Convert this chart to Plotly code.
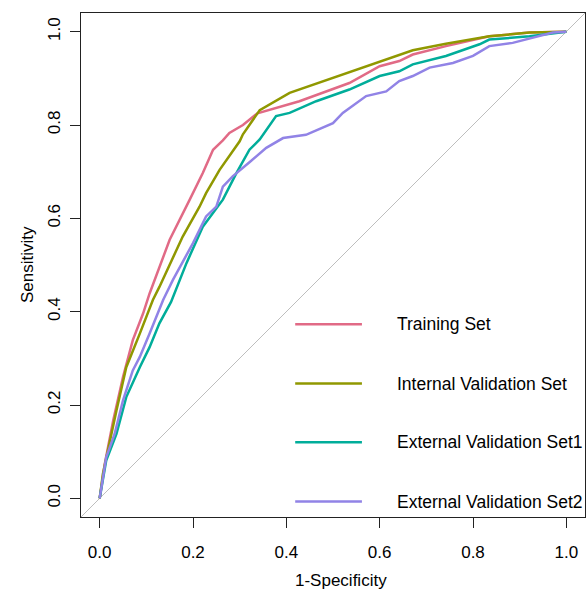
import plotly.graph_objects as go

# ---- data ----
series_names = ["Training Set", "Internal Validation Set",
                "External Validation Set1", "External Validation Set2"]
series_colors = ["#E16A86", "#909800", "#00AD9A", "#9183E6"]

train_x = [0, 0.011, 0.029, 0.050, 0.071, 0.093, 0.107, 0.150, 0.193, 0.221, 0.243,
           0.264, 0.278, 0.307, 0.338, 0.428, 0.535, 0.600, 0.642, 0.671, 0.742, 0.835, 0.921, 1.0]
train_y = [0, 0.074, 0.167, 0.260, 0.339, 0.396, 0.439, 0.554, 0.640, 0.697, 0.747,
           0.767, 0.783, 0.800, 0.825, 0.851, 0.890, 0.926, 0.937, 0.951, 0.969, 0.990, 0.998, 1.0]

int_x = [0, 0.007, 0.036, 0.057, 0.086, 0.114, 0.128, 0.178, 0.214, 0.228, 0.257,
         0.300, 0.307, 0.343, 0.407, 0.500, 0.600, 0.671, 0.742, 0.835, 0.921, 1.0]
int_y = [0, 0.053, 0.188, 0.281, 0.353, 0.425, 0.453, 0.561, 0.625, 0.654, 0.704,
         0.765, 0.780, 0.832, 0.869, 0.901, 0.936, 0.960, 0.974, 0.990, 0.998, 1.0]

ext1_x = [0, 0.014, 0.036, 0.057, 0.086, 0.107, 0.128, 0.153, 0.186, 0.221, 0.264,
          0.293, 0.321, 0.343, 0.378, 0.407, 0.464, 0.535, 0.600, 0.642, 0.671, 0.742,
          0.814, 0.835, 0.921, 1.0]
ext1_y = [0, 0.081, 0.138, 0.217, 0.281, 0.324, 0.375, 0.421, 0.504, 0.582, 0.640,
          0.697, 0.747, 0.769, 0.819, 0.826, 0.851, 0.876, 0.905, 0.915, 0.930, 0.948,
          0.973, 0.983, 0.990, 1.0]

ext2_x = [0, 0.014, 0.032, 0.050, 0.071, 0.086, 0.107, 0.136, 0.157, 0.200, 0.228,
          0.250, 0.264, 0.285, 0.321, 0.357, 0.393, 0.442, 0.500, 0.521, 0.571, 0.614,
          0.642, 0.671, 0.707, 0.757, 0.800, 0.835, 0.885, 0.928, 0.971, 1.0]
ext2_y = [0, 0.088, 0.138, 0.210, 0.274, 0.303, 0.353, 0.425, 0.468, 0.547, 0.604,
          0.625, 0.668, 0.690, 0.720, 0.751, 0.772, 0.779, 0.804, 0.826, 0.862, 0.872,
          0.894, 0.905, 0.923, 0.933, 0.948, 0.969, 0.976, 0.987, 0.998, 1.0]

tick_vals = [0.0, 0.2, 0.4, 0.6, 0.8, 1.0]
tick_text = ["0.0", "0.2", "0.4", "0.6", "0.8", "1.0"]

xs = [train_x, int_x, ext1_x, ext2_x]
ys = [train_y, int_y, ext1_y, ext2_y]

# ---- layout constants ----
axis_range = [-0.04, 1.04]
FONT = "Liberation Sans, Arial, Helvetica, sans-serif"

fig = go.Figure()
for name, col, x, y in zip(series_names, series_colors, xs, ys):
    fig.add_trace(go.Scatter(x=x, y=y, mode="lines", name=name,
                             line=dict(color=col, width=2.5), showlegend=False))

# diagonal reference line (abline 0,1)
fig.add_shape(type="line", xref="x", yref="y", layer="below",
              x0=axis_range[0], y0=axis_range[0], x1=axis_range[1], y1=axis_range[1],
              line=dict(color="#BEBEBE", width=1))

# manual legend in data coordinates (like R's legend())
leg_y = [0.373, 0.246, 0.120, -0.007]
leg_x0, leg_x1, leg_tx = 0.419, 0.562, 0.632
for name, col, ly in zip(series_names, series_colors, leg_y):
    fig.add_shape(type="line", xref="x", yref="y", x0=leg_x0, x1=leg_x1, y0=ly, y1=ly,
                  line=dict(color=col, width=2.5))
    fig.add_annotation(x=leg_tx, y=ly, xref="x", yref="y", text=name, showarrow=False,
                       xanchor="left", yanchor="middle",
                       font=dict(family=FONT, size=17.5, color="#000"))

# axis titles
fig.add_annotation(x=0.516, y=0, xref="paper", yref="paper", text="1-Specificity",
                   showarrow=False, xanchor="center", yanchor="middle", yshift=-63,
                   font=dict(family=FONT, size=17, color="#000"))
fig.add_annotation(x=0, y=0.5, xref="paper", yref="paper", text="Sensitivity",
                   showarrow=False, xanchor="center", yanchor="middle", xshift=-54,
                   textangle=-90, font=dict(family=FONT, size=17, color="#000"))

axis_common = dict(range=axis_range, tickvals=tick_vals, ticktext=tick_text,
                   ticks="outside", ticklen=10, tickwidth=1, tickcolor="#222",
                   showline=True, mirror=True, linecolor="#222", linewidth=1.3,
                   showgrid=False, zeroline=False,
                   tickfont=dict(family=FONT, size=17, color="#000"))

fig.update_layout(
    width=586, height=590,
    margin=dict(l=81, r=1, t=13, b=73),
    paper_bgcolor="white", plot_bgcolor="white",
    xaxis=dict(**axis_common, ticklabelstandoff=9),
    yaxis=dict(**axis_common, tickangle=-90, ticklabelstandoff=3),
)

fig.write_html("out.html")
